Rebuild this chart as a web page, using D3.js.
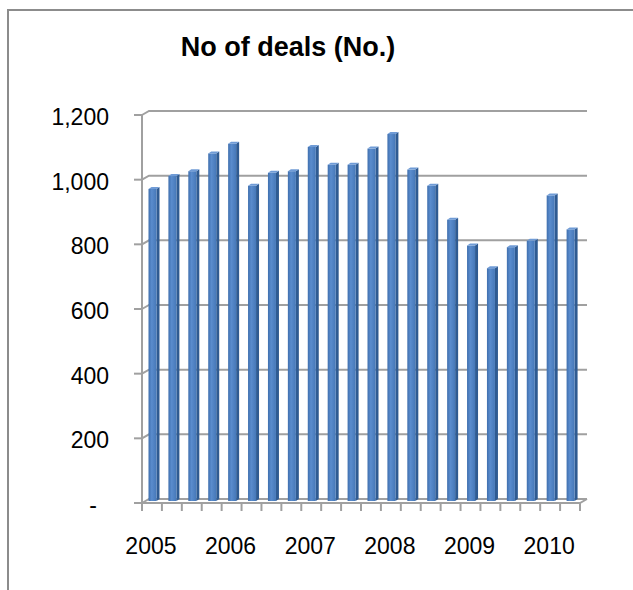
<!DOCTYPE html>
<html>
<head>
<meta charset="utf-8">
<script src="https://cdn.jsdelivr.net/npm/d3@7"></script>
<style>
  body { margin: 0; background: #fff; }
  text { font-family: "Liberation Sans", Arial, sans-serif; fill: #000; }
</style>
</head>
<body>
<div id="chart"></div>
<script>
// quarterly deal counts, 2005 Q1 .. 2010 Q2
const quarters = ["2005 Q1","2005 Q2","2005 Q3","2005 Q4","2006 Q1","2006 Q2","2006 Q3","2006 Q4",
                  "2007 Q1","2007 Q2","2007 Q3","2007 Q4","2008 Q1","2008 Q2","2008 Q3","2008 Q4",
                  "2009 Q1","2009 Q2","2009 Q3","2009 Q4","2010 Q1","2010 Q2"];
const deals = [965, 1005, 1020, 1075, 1105, 975, 1015, 1020, 1095, 1040, 1040, 1090,
               1135, 1025, 975, 870, 790, 720, 785, 805, 945, 840];
const yTicks = [0, 200, 400, 600, 800, 1000, 1200];
const yearLabels = ["2005", "2006", "2007", "2008", "2009", "2010"];

const width = 633, height = 590;
const depthX = 7, depthY = -4;   // offset of back wall vs front plane

const svg = d3.select('#chart').append('svg')
    .attr('width', width)
    .attr('height', height);

// outer chart frame (cropped at right/bottom)
svg.append('path')
    .attr('d', 'M8,' + (height + 5) + ' L8,10 L' + (width + 5) + ',10')
    .attr('fill', 'none')
    .attr('stroke', '#8c8c8c')
    .attr('stroke-width', 2);

svg.append('text')
    .attr('x', 288)
    .attr('y', 56)
    .attr('text-anchor', 'middle')
    .style('font-size', '27px')
    .style('font-weight', 'bold')
    .text('No of deals (No.)');

const x = d3.scaleBand().domain(quarters).range([142, 580]);
const y = d3.scaleLinear().domain([0, 1200]).range([503, 115]);

const defs = svg.append('defs');
const grad = defs.append('linearGradient').attr('id', 'barGrad')
    .attr('x1', '0%').attr('x2', '100%').attr('y1', '0%').attr('y2', '0%');
grad.append('stop').attr('offset', '0%').attr('stop-color', '#3f6fae');
grad.append('stop').attr('offset', '40%').attr('stop-color', '#5a8ccd');
grad.append('stop').attr('offset', '100%').attr('stop-color', '#4678b8');

// gridlines on the back wall, with the short diagonal from the front axis
svg.append('g')
    .selectAll('path')
    .data(yTicks)
    .enter().append('path')
    .attr('d', d => 'M142,' + y(d) + ' L' + (142 + depthX) + ',' + (y(d) + depthY) +
                    ' L' + (580 + depthX) + ',' + (y(d) + depthY))
    .attr('fill', 'none')
    .attr('stroke', '#a0a0a0')
    .attr('stroke-width', 2);

// floor front edge
svg.append('path')
    .attr('d', 'M134,' + y(0) + ' L580,' + y(0) + ' L' + (580 + depthX) + ',' + (y(0) + depthY))
    .attr('fill', 'none')
    .attr('stroke', '#a0a0a0')
    .attr('stroke-width', 2);

// bars
const bars = svg.append('g').selectAll('g')
    .data(deals)
    .enter().append('g');

const bx = (d, i) => x(quarters[i]) + 6.5;
const byTop = d => y(d) - 2;
const byBase = y(0) - 2;

bars.append('path')   // side face
    .attr('d', (d, i) => {
        const x0 = bx(d, i) + 8;
        return 'M' + x0 + ',' + byTop(d) + ' L' + (x0 + 3) + ',' + (byTop(d) - 2) +
               ' L' + (x0 + 3) + ',' + (byBase - 2) + ' L' + x0 + ',' + byBase + 'Z';
    })
    .attr('fill', '#2f5b92');

bars.append('rect')   // front face
    .attr('x', bx)
    .attr('y', d => byTop(d))
    .attr('width', 8)
    .attr('height', d => byBase - byTop(d))
    .attr('fill', 'url(#barGrad)');

bars.append('path')   // top face
    .attr('d', (d, i) => {
        const x0 = bx(d, i);
        return 'M' + x0 + ',' + byTop(d) + ' L' + (x0 + 3) + ',' + (byTop(d) - 2) +
               ' L' + (x0 + 11) + ',' + (byTop(d) - 2) + ' L' + (x0 + 8) + ',' + byTop(d) + 'Z';
    })
    .attr('fill', '#6f9bd6');

// vertical axis
svg.append('line')
    .attr('x1', 142).attr('x2', 142)
    .attr('y1', y(1200)).attr('y2', y(0) + 8)
    .attr('stroke', '#a0a0a0')
    .attr('stroke-width', 2);

svg.append('g').selectAll('line')
    .data(yTicks)
    .enter().append('line')
    .attr('x1', 134).attr('x2', 142)
    .attr('y1', d => y(d)).attr('y2', d => y(d))
    .attr('stroke', '#a0a0a0')
    .attr('stroke-width', 2);

svg.append('g').selectAll('text')
    .data(yTicks)
    .enter().append('text')
    .attr('x', d => d === 0 ? 97 : 109)
    .attr('y', d => y(d) + 10)
    .attr('text-anchor', 'end')
    .style('font-size', '23px')
    .text(d => d === 0 ? '-' : d3.format(',')(d));

// category ticks
const tickX = quarters.map(q => x(q)).concat([x.range()[1]]);
svg.append('g').selectAll('line')
    .data(tickX)
    .enter().append('line')
    .attr('x1', d => d).attr('x2', d => d)
    .attr('y1', y(0)).attr('y2', y(0) + 8)
    .attr('stroke', '#a0a0a0')
    .attr('stroke-width', 2);

// year labels at every 4th quarter
svg.append('g').selectAll('text')
    .data(yearLabels)
    .enter().append('text')
    .attr('x', (d, i) => x(quarters[i * 4]) + x.bandwidth() / 2 - 1)
    .attr('y', 554)
    .attr('text-anchor', 'middle')
    .style('font-size', '23px')
    .text(d => d);
</script>
</body>
</html>
